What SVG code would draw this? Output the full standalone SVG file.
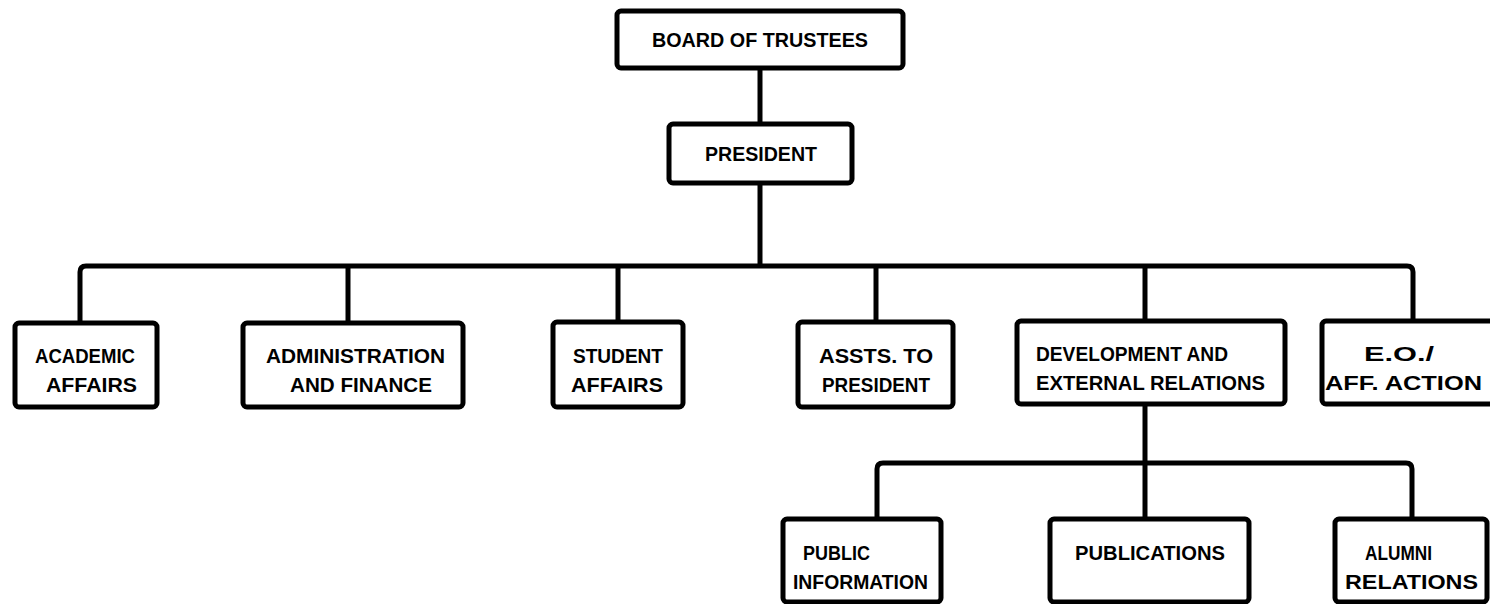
<svg xmlns="http://www.w3.org/2000/svg" width="1490" height="604" viewBox="0 0 1490 604">
<style>
.box{fill:#fff;stroke:#000;stroke-width:5;}
.ln{fill:none;stroke:#000;stroke-width:5;stroke-linejoin:round;}
.t{font-family:"Liberation Sans",Arial,sans-serif;font-weight:bold;font-size:20px;fill:#000;}
</style>
<rect width="1490" height="604" fill="#fff"/>
<g id="connectors">
<path class="ln" d="M760 68 V123"/>
<path class="ln" d="M760 183 V266"/>
<path class="ln" d="M80 323 V272 Q80 266 86 266 H1407 Q1413 266 1413 272 V321"/>
<path class="ln" d="M348 266 V323"/>
<path class="ln" d="M618 266 V322"/>
<path class="ln" d="M876 266 V322"/>
<path class="ln" d="M1145 266 V321"/>
<path class="ln" d="M1145 404 V518"/>
<path class="ln" d="M877 519 V469 Q877 463 883 463 H1406 Q1412 463 1412 469 V518"/>
</g>
<g id="board"><rect class="box" x="617" y="11" width="286" height="57" rx="4"/><text class="t" x="652" y="47" textLength="216" lengthAdjust="spacingAndGlyphs">BOARD OF TRUSTEES</text></g>
<g id="president"><rect class="box" x="669" y="124" width="183" height="59" rx="4"/><text class="t" x="705" y="161" textLength="112" lengthAdjust="spacingAndGlyphs">PRESIDENT</text></g>
<g id="academic"><rect class="box" x="15" y="323" width="142" height="84" rx="4"/><text class="t" x="35" y="363" textLength="100" lengthAdjust="spacingAndGlyphs">ACADEMIC</text><text class="t" x="46" y="392" textLength="91" lengthAdjust="spacingAndGlyphs">AFFAIRS</text></g>
<g id="admin"><rect class="box" x="243" y="323" width="220" height="84" rx="4"/><text class="t" x="266" y="363" textLength="179" lengthAdjust="spacingAndGlyphs">ADMINISTRATION</text><text class="t" x="290" y="392" textLength="142" lengthAdjust="spacingAndGlyphs">AND FINANCE</text></g>
<g id="student"><rect class="box" x="553" y="322" width="130" height="85" rx="4"/><text class="t" x="573" y="363" textLength="90" lengthAdjust="spacingAndGlyphs">STUDENT</text><text class="t" x="571" y="392" textLength="92" lengthAdjust="spacingAndGlyphs">AFFAIRS</text></g>
<g id="assts"><rect class="box" x="798" y="322" width="155" height="85" rx="4"/><text class="t" x="819" y="363" textLength="114" lengthAdjust="spacingAndGlyphs">ASSTS. TO</text><text class="t" x="822" y="392" textLength="108" lengthAdjust="spacingAndGlyphs">PRESIDENT</text></g>
<g id="development"><rect class="box" x="1017" y="321" width="268" height="83" rx="4"/><text class="t" x="1036" y="361" textLength="192" lengthAdjust="spacingAndGlyphs">DEVELOPMENT AND</text><text class="t" x="1036" y="390" textLength="229" lengthAdjust="spacingAndGlyphs">EXTERNAL RELATIONS</text></g>
<g id="eo"><rect class="box" x="1322" y="321" width="180" height="83" rx="4"/><text class="t" x="1364" y="361" textLength="70" lengthAdjust="spacingAndGlyphs">E.O./</text><text class="t" x="1325" y="390" textLength="157" lengthAdjust="spacingAndGlyphs">AFF. ACTION</text></g>
<g id="public-info"><rect class="box" x="783" y="519" width="158" height="83" rx="4"/><text class="t" x="803" y="560" textLength="67" lengthAdjust="spacingAndGlyphs">PUBLIC</text><text class="t" x="793" y="589" textLength="135" lengthAdjust="spacingAndGlyphs">INFORMATION</text></g>
<g id="publications"><rect class="box" x="1050" y="519" width="199" height="83" rx="4"/><text class="t" x="1075" y="560" textLength="150" lengthAdjust="spacingAndGlyphs">PUBLICATIONS</text></g>
<g id="alumni"><rect class="box" x="1335" y="519" width="152" height="83" rx="4"/><text class="t" x="1365" y="560" textLength="67" lengthAdjust="spacingAndGlyphs">ALUMNI</text><text class="t" x="1345" y="589" textLength="133" lengthAdjust="spacingAndGlyphs">RELATIONS</text></g>
</svg>
